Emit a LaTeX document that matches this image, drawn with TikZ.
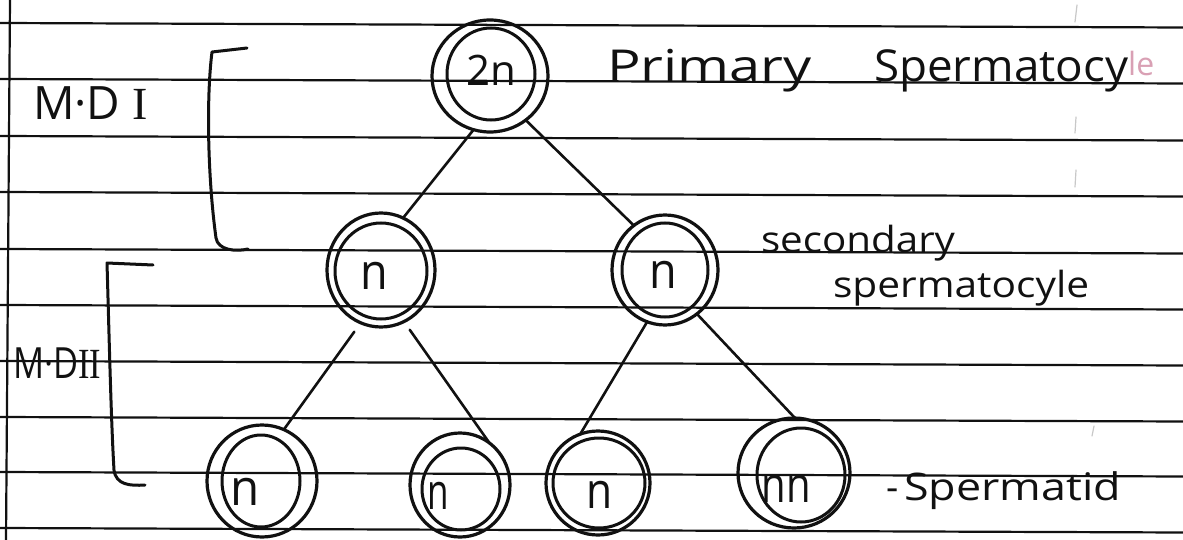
\documentclass[tikz,border=0pt]{standalone}
\usepackage{fontspec}
\setmainfont{Open Sans}
\newfontfamily\romanI{Liberation Serif}
\usetikzlibrary{shapes.geometric}
\definecolor{inkc}{HTML}{111111}
\definecolor{pinkish}{HTML}{D9A0B4}
\definecolor{faintc}{HTML}{C8C8C8}
\newcommand{\fsz}[1]{\fontsize{#1}{#1}\selectfont}
\tikzset{
  rule/.style={line width=2.2pt, draw=inkc},
  cellout/.style={ellipse, draw=inkc, line width=3.2pt, inner sep=0pt, outer sep=0pt},
  cellin/.style={draw=inkc, line width=3pt},
  link/.style={draw=inkc, line width=2.6pt, line cap=round},
  brack/.style={draw=inkc, line width=3pt, line cap=round, line join=round},
  hw/.style={inner sep=0pt, outer sep=0pt, text=inkc},
  faint/.style={draw=faintc, line width=1.2pt, line cap=round}
}
\begin{document}
\begin{tikzpicture}[x=1pt, y=-1pt]
\useasboundingbox[fill=white] (0,0) rectangle (1183,540);
% ruled paper
\foreach \yy in {23,79,136,192,249,305,361,417,472,528}{
  \draw[rule] (0,\yy) -- (1183,\yy+4.5);
}
\draw[rule] (10,0) -- (6,540);
% faint pencil marks
\draw[faint] (1077,5) -- (1075,22);
\draw[faint] (1076,117) -- (1075,133);
\draw[faint] (1076,170) -- (1075,187);
\draw[faint] (1094,426) -- (1092,436);

% cells (outer rings)
\node[cellout, minimum width=116pt, minimum height=112pt] (top) at (490,76) {};
\node[cellout, minimum width=108pt, minimum height=114pt] (L) at (381,270) {};
\node[cellout, minimum width=106pt, minimum height=110pt] (R) at (665,270) {};
\node[cellout, minimum width=110pt, minimum height=112pt] (c1) at (262,481) {};
\node[cellout, minimum width=100pt, minimum height=104pt] (c2) at (460,485) {};
\node[cellout, minimum width=104pt, minimum height=104pt] (c3) at (598,483) {};
\node[cellout, minimum width=112pt, minimum height=110pt] (c4) at (794,473) {};
% inner rings
\draw[cellin] ([shift={(1,-2)}]top.center) ellipse [x radius=44, y radius=46];
\draw[cellin] ([shift={(0,1)}]L.center) ellipse [x radius=46, y radius=48];
\draw[cellin] (R.center) ellipse [x radius=43, y radius=47];
\draw[cellin] ([shift={(-1,0)}]c1.center) ellipse [x radius=39, y radius=46];
\draw[cellin] ([shift={(1,4)}]c2.center) ellipse [x radius=39, y radius=41];
\draw[cellin] ([shift={(1,0)}]c3.center) ellipse [x radius=46, y radius=45];
\draw[cellin] ([shift={(7,2)}]c4.center) ellipse [x radius=44, y radius=47];

% cell labels
\node[hw] (ttop) at (491,70) {\fsz{42}2n};
\node[hw] (tL) at (374,276) {\fsz{50}\scalebox{0.9}[1]{n}};
\node[hw] (tR) at (663,275) {\fsz{50}\scalebox{0.9}[1]{n}};
\node[hw] (t1) at (245,492) {\fsz{50}\scalebox{0.95}[1]{n}};
\node[hw] (t2) at (438,496) {\fsz{50}\scalebox{0.7}[1]{n}};
\node[hw] (t3) at (600,495) {\fsz{50}\scalebox{0.85}[1]{n}};
\node[hw] (t4) at (786,489) {\fsz{50}\scalebox{0.8}[1]{nn}};

% connectors
\draw[link] (top.253) -- (L.67);
\draw[link] (top.309) -- (R.125);
\draw[link, shorten <=11pt] (L.249) -- (c1.67);
\draw[link, shorten <=10pt] (L.294) -- (c2.55);
\draw[link] (R.251) -- (c3.110);
\draw[link] (R.306) -- (c4.89);

% brackets
\draw[brack] (247,48) -- (212,52) .. controls (206,100) and (208,180) .. (216,238)
  .. controls (218,250) and (235,252) .. (248,249);
\draw[brack] (153,265) -- (107,263) .. controls (109,330) and (111,420) .. (114,470)
  .. controls (116,485) and (130,486) .. (145,485);

% labels
\node[hw, anchor=base west] (mdi) at (33,120) {\fsz{46}M·D {\romanI I}};
\node[hw, anchor=base west] (mdii) at (13,378) {\fsz{43}\scalebox{0.8}[1]{M·D{\romanI II}}};
\node[hw, anchor=base west] (prim) at (607,82) {\fsz{44}\scalebox{1.27}[1]{Primary}};
\node[hw, anchor=base west] (psp) at (874,82) {\fsz{44}\scalebox{1.04}[1]{Spermatocy}\raisebox{6pt}{\color{pinkish}\fsz{32}le}};
\node[hw, anchor=base west] (sec) at (761,252) {\fsz{36}\scalebox{1.12}[1]{secondary}};
\node[hw, anchor=base west] (ssp) at (833,297) {\fsz{36}\scalebox{1.13}[1]{spermatocyle}};
\node[hw, anchor=base west] (spd) at (886,500) {\fsz{38}-\hspace{6pt}\scalebox{1.18}[1]{Spermatid}};
\end{tikzpicture}
\end{document}
